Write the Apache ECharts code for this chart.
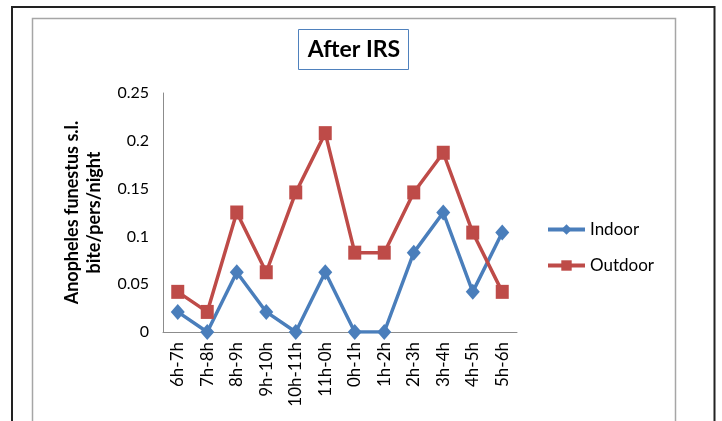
<!DOCTYPE html>
<html>
<head>
<meta charset="utf-8">
<script src="https://cdn.jsdelivr.net/npm/echarts@6/dist/echarts.min.js"></script>
<style>
  html, body { margin: 0; padding: 0; background: #fff; }
  #chart { width: 722px; height: 421px; }
</style>
</head>
<body>
<div id="chart"></div>
<script>
// Hourly biting rate of Anopheles funestus s.l. after indoor residual spraying
const hours = ['6h-7h', '7h-8h', '8h-9h', '9h-10h', '10h-11h', '11h-0h',
               '0h-1h', '1h-2h', '2h-3h', '3h-4h', '4h-5h', '5h-6h'];
const indoor  = [0.021, 0, 0.0625, 0.021, 0, 0.0625, 0, 0, 0.083, 0.125, 0.042, 0.104];
const outdoor = [0.042, 0.021, 0.125, 0.0625, 0.146, 0.208, 0.083, 0.083, 0.146, 0.1875, 0.104, 0.042];
const yTicks = { min: 0, max: 0.25, step: 0.05 };

const FONT = 'Lato, "Open Sans", sans-serif';
const BLUE = '#4a7ebb';
const RED = '#be4b48';
const chart = echarts.init(document.getElementById('chart'), null, { renderer: 'canvas' });

chart.setOption({
  backgroundColor: '#fff',
  animation: false,
  textStyle: { fontFamily: FONT },
  graphic: [
    // outer frame
    { type: 'rect', shape: { x: 12, y: 7, width: 702.5, height: 430 },
      style: { fill: null, stroke: '#222', lineWidth: 2 }, silent: true },
    // chart area frame
    { type: 'rect', shape: { x: 32.5, y: 18.5, width: 643, height: 420 },
      style: { fill: null, stroke: '#a6a6a6', lineWidth: 1.5 }, silent: true },
    // title box
    { type: 'rect', shape: { x: 298.5, y: 29.5, width: 110, height: 40 },
      style: { fill: '#fff', stroke: '#4f81bd', lineWidth: 1 }, silent: true },
    { type: 'text', x: 354, y: 50,
      style: { text: 'After IRS', fill: '#000', font: 'bold 23px ' + FONT,
               align: 'center', verticalAlign: 'middle' }, silent: true }
  ],
  grid: { left: 163, top: 93, right: 205, bottom: 89, containLabel: false },
  legend: {
    orient: 'vertical',
    left: 541, top: 216,
    itemWidth: 37, itemHeight: 13, itemGap: 19,
    textStyle: { fontSize: 17, color: '#000', fontFamily: FONT, padding: [0, 0, 0, 0] },
    data: [
      { name: 'Indoor', lineStyle: { width: 4, color: BLUE } },
      { name: 'Outdoor', lineStyle: { width: 4, color: RED } }
    ]
  },
  xAxis: {
    type: 'category',
    data: hours,
    boundaryGap: true,
    axisLine: { lineStyle: { color: '#8c8c8c', width: 1 } },
    axisTick: { show: false },
    axisLabel: { rotate: 90, fontSize: 17, color: '#000', margin: 10, interval: 0, fontFamily: FONT }
  },
  yAxis: {
    type: 'value',
    min: yTicks.min, max: yTicks.max, interval: yTicks.step,
    name: 'Anopheles funestus s.l.\nbite/pers/night',
    nameLocation: 'middle',
    nameGap: 58,
    nameRotate: 90,
    nameTextStyle: { fontSize: 18, fontWeight: 'bold', color: '#000', lineHeight: 22, fontFamily: FONT },
    axisLine: { show: true, lineStyle: { color: '#8c8c8c', width: 1 } },
    axisTick: { show: false },
    splitLine: { show: false },
    axisLabel: { fontSize: 16, color: '#000', margin: 14, fontFamily: FONT }
  },
  series: [
    {
      name: 'Indoor', type: 'line', data: indoor,
      symbol: 'diamond', symbolSize: [14, 16],
      lineStyle: { color: BLUE, width: 3.5 },
      itemStyle: { color: BLUE }
    },
    {
      name: 'Outdoor', type: 'line', data: outdoor,
      symbol: 'rect', symbolSize: [13, 14],
      lineStyle: { color: RED, width: 3.5 },
      itemStyle: { color: RED }
    }
  ]
});
</script>
</body>
</html>
